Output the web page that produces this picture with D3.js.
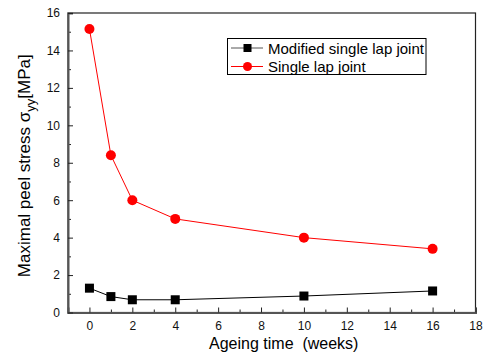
<!DOCTYPE html>
<html>
<head>
<meta charset="utf-8">
<script src="https://cdn.jsdelivr.net/npm/d3@7"></script>
<style>
  body { margin: 0; background: #fff; }
  svg { font-family: "Liberation Sans", Arial, sans-serif; }
</style>
</head>
<body>
<svg id="chart" width="486" height="356"></svg>
<script>
const weeks = [0, 1, 2, 4, 10, 16];
const modifiedJoint = [1.3, 0.85, 0.68, 0.68, 0.88, 1.15];
const singleJoint = [15.15, 8.4, 6.0, 5.0, 4.0, 3.4];
const xTicks = [0, 2, 4, 6, 8, 10, 12, 14, 16, 18];
const yTicks = [0, 2, 4, 6, 8, 10, 12, 14, 16];
const seriesNames = ["Modified single lap joint", "Single lap joint"];

const svg = d3.select("#chart");
const margin = { top: 13, right: 10.5, bottom: 43.5, left: 68 };
const width = 486, height = 356;

const x = d3.scaleLinear().domain([-1, 18]).range([margin.left, width - margin.right]);
const y = d3.scaleLinear().domain([0, 16]).range([height - margin.bottom, margin.top]);

// frame
svg.append("rect")
    .attr("x", x(-1)).attr("y", y(16))
    .attr("width", x(18) - x(-1)).attr("height", y(0) - y(16))
    .attr("fill", "none").attr("stroke", "#222").attr("stroke-width", 1.2);

// minor ticks
const xMinor = d3.range(-1, 18, 2);
const yMinor = d3.range(1, 16, 2);
svg.append("g").attr("transform", `translate(0,${y(0)})`)
    .call(d3.axisBottom(x).tickValues(xMinor).tickSize(-3).tickFormat(""))
    .call(g => g.select(".domain").remove());
svg.append("g").attr("transform", `translate(${x(-1)},0)`)
    .call(d3.axisLeft(y).tickValues(yMinor).tickSize(-3).tickFormat(""))
    .call(g => g.select(".domain").remove());

// major axes
const xAxis = svg.append("g").attr("transform", `translate(0,${y(0)})`)
    .call(d3.axisBottom(x).tickValues(xTicks).tickSize(-5).tickPadding(9));
const yAxis = svg.append("g").attr("transform", `translate(${x(-1)},0)`)
    .call(d3.axisLeft(y).tickValues(yTicks).tickSize(-5).tickPadding(8));
[xAxis, yAxis].forEach(g => {
    g.select(".domain").attr("stroke", "#555").attr("stroke-width", 2);
    g.selectAll("text").attr("font-size", 12).attr("fill", "#111")
        .attr("font-family", "Liberation Sans, Arial, sans-serif");
});
svg.selectAll(".tick line").attr("stroke", "#222");

// axis titles
svg.append("text")
    .attr("x", (x(-1) + x(18)) / 2 + 12).attr("y", 349)
    .attr("text-anchor", "middle").attr("font-size", 16)
    .style("white-space", "pre")
    .text("Ageing time  (weeks)");

const yl = svg.append("text")
    .attr("transform", `translate(30,${(y(0) + y(16)) / 2 + 3}) rotate(-90)`)
    .attr("text-anchor", "middle").attr("font-size", 17);
yl.append("tspan").text("Maximal peel stress σ");
yl.append("tspan").attr("font-size", 13).attr("dy", 5).text("yy");
yl.append("tspan").attr("dy", -5).text("[MPa]");

// series
const line = d3.line().x(d => x(d[0])).y(d => y(d[1]));
const blackData = weeks.map((w, i) => [w, modifiedJoint[i]]);
const redData = weeks.map((w, i) => [w, singleJoint[i]]);

svg.append("path").datum(blackData).attr("d", line)
    .attr("fill", "none").attr("stroke", "#000").attr("stroke-width", 1);
svg.append("path").datum(redData).attr("d", line)
    .attr("fill", "none").attr("stroke", "#ff0000").attr("stroke-width", 1);

svg.selectAll(".sq").data(blackData).enter().append("rect")
    .attr("x", d => x(d[0]) - 4.5).attr("y", d => y(d[1]) - 4.5)
    .attr("width", 9).attr("height", 9).attr("fill", "#000");
svg.selectAll(".dot").data(redData).enter().append("circle")
    .attr("cx", d => x(d[0])).attr("cy", d => y(d[1])).attr("r", 5)
    .attr("fill", "#ff0000");

// legend
const lg = svg.append("g");
lg.append("rect").attr("x", 227.5).attr("y", 38.5).attr("width", 198.5).attr("height", 36)
    .attr("fill", "#fff").attr("stroke", "#000").attr("stroke-width", 1);
seriesNames.forEach((name, i) => {
    const cy = 48 + i * 18.5;
    lg.append("line").attr("x1", 231).attr("x2", 263).attr("y1", cy).attr("y2", cy)
        .attr("stroke", i === 0 ? "#555" : "#ff0000").attr("stroke-width", 1);
    if (i === 0) {
        lg.append("rect").attr("x", 243.5).attr("y", cy - 4).attr("width", 8).attr("height", 8).attr("fill", "#000");
    } else {
        lg.append("circle").attr("cx", 247.5).attr("cy", cy).attr("r", 4.5).attr("fill", "#ff0000");
    }
    lg.append("text").attr("x", 268).attr("y", cy + 5.5).attr("font-size", 15).text(name);
});
</script>
</body>
</html>
